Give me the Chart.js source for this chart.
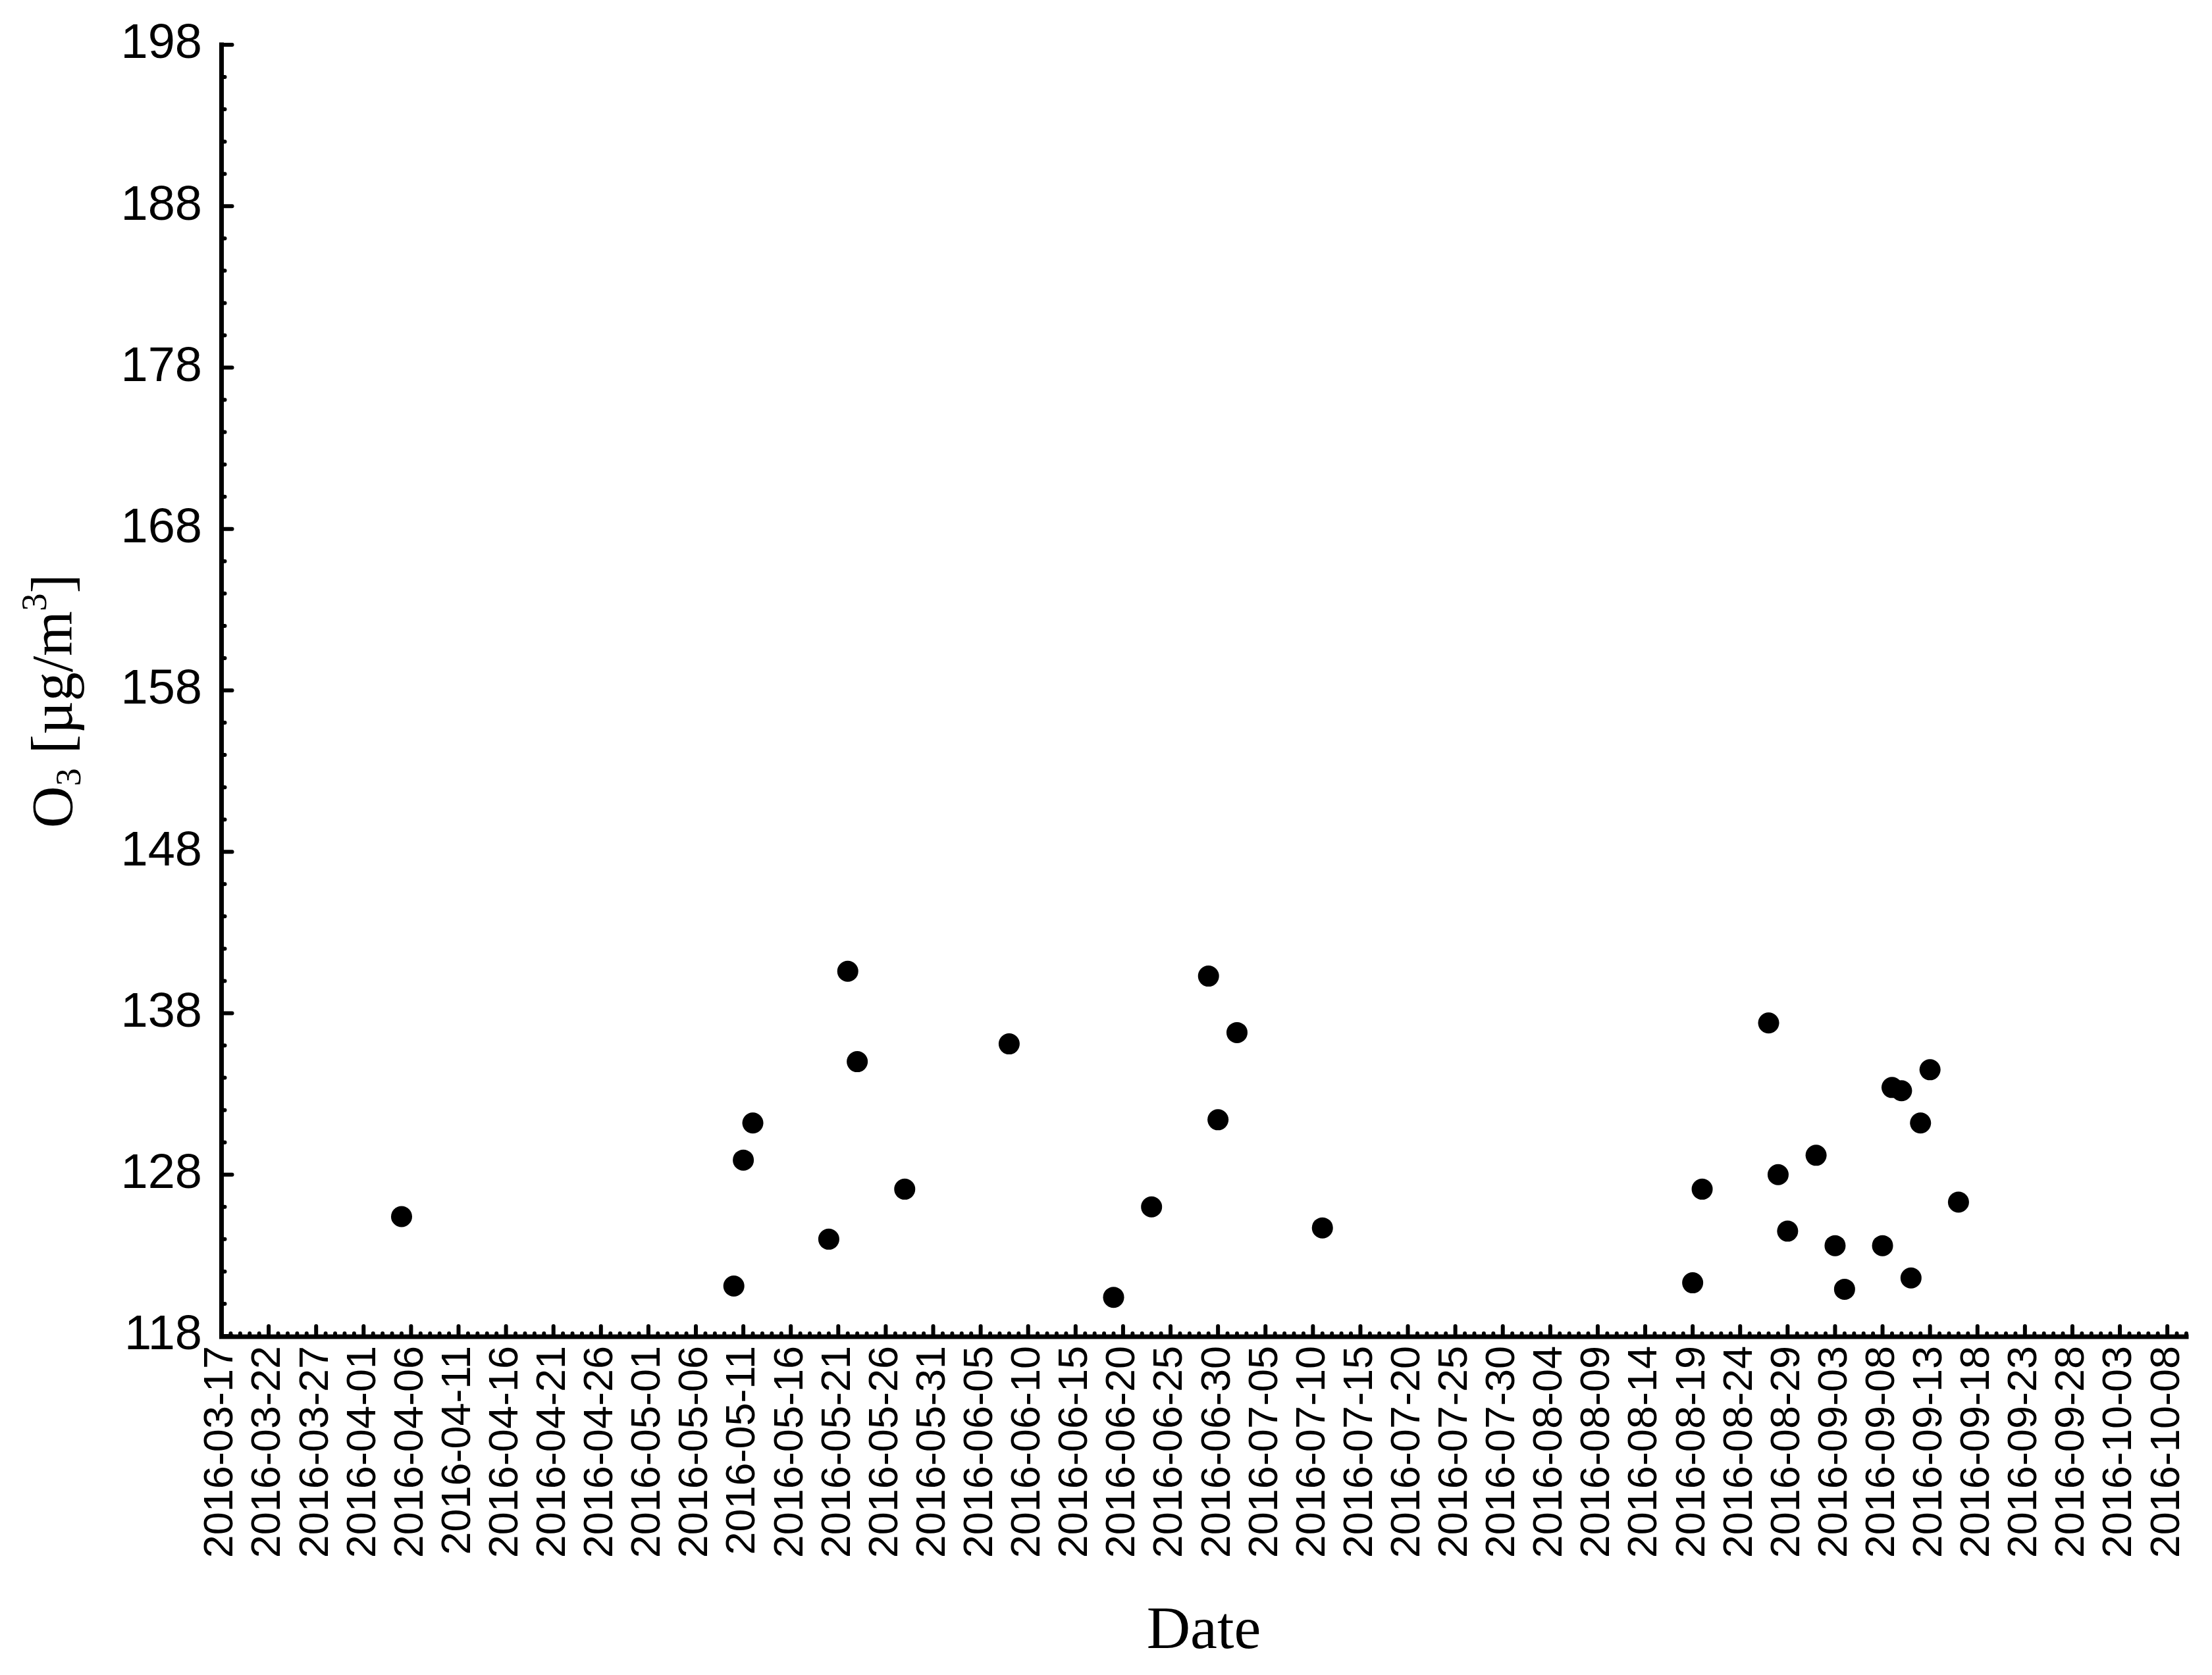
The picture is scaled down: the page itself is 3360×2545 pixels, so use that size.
<!DOCTYPE html>
<html>
<head>
<meta charset="utf-8">
<title>O3 by date</title>
<script src="https://cdn.jsdelivr.net/npm/chart.js@4.4.1/dist/chart.umd.min.js"></script>
<style>
  html, body { margin: 0; padding: 0; background: #fff; }
  canvas { display: block; }
</style>
</head>
<body>
<canvas id="chart" width="3360" height="2545"></canvas>
<script>
var dates = ['2016-04-05', '2016-05-10', '2016-05-11', '2016-05-12', '2016-05-20', '2016-05-22',
             '2016-05-23', '2016-05-28', '2016-06-08', '2016-06-19', '2016-06-23', '2016-06-29',
             '2016-06-30', '2016-07-02', '2016-07-11', '2016-08-19', '2016-08-20', '2016-08-27',
             '2016-08-28', '2016-08-29', '2016-09-01', '2016-09-03', '2016-09-04', '2016-09-08',
             '2016-09-09', '2016-09-10', '2016-09-11', '2016-09-12', '2016-09-13', '2016-09-16'];
var o3 = [125.4, 121.1, 128.9, 131.2, 124.0, 140.6,
          135.0, 127.1, 136.1, 120.4, 126.0, 140.3,
          131.4, 136.8, 124.7, 121.3, 127.1, 137.4,
          128.0, 124.5, 129.2, 123.6, 120.9, 123.6,
          133.4, 133.2, 121.6, 131.2, 134.5, 126.3];

// axis range
var startDate = '2016-03-17';
var endDate = '2016-10-10';
var yMin = 118;
var yMax = 198;
var yLabelStep = 10;
var yMinorStep = 2;
var xLabelStep = 5;

var DAY = 86400000;
function toUTC(s) {
  var p = s.split('-');
  return Date.UTC(+p[0], +p[1] - 1, +p[2]);
}
function dayOffset(s) {
  return Math.round((toUTC(s) - toUTC(startDate)) / DAY);
}
function pad(n) {
  return n < 10 ? '0' + n : '' + n;
}
function dayLabel(d) {
  var t = new Date(toUTC(startDate) + d * DAY);
  return t.getUTCFullYear() + '-' + pad(t.getUTCMonth() + 1) + '-' + pad(t.getUTCDate());
}

// inward major/minor ticks and the two axis lines
var axesPlugin = {
  id: 'originAxes',
  afterDraw: function(chart) {
    var ctx = chart.ctx;
    var a = chart.chartArea;
    var xs = chart.scales.x;
    var ys = chart.scales.y;
    var axisX = a.left + 0.5;
    var axisY = a.bottom + 1;
    ctx.save();
    ctx.strokeStyle = '#000';
    ctx.lineWidth = 6;
    ctx.lineCap = 'round';
    xs.ticks.forEach(function(t) {
      var px = xs.getPixelForValue(t.value);
      var len = t.value % xLabelStep === 0 ? 16 : 5;
      ctx.beginPath();
      ctx.moveTo(px, axisY);
      ctx.lineTo(px, axisY - len);
      ctx.stroke();
    });
    ys.ticks.forEach(function(t) {
      var py = ys.getPixelForValue(t.value);
      var len = (t.value - yMin) % yLabelStep === 0 ? 16 : 5;
      ctx.beginPath();
      ctx.moveTo(axisX, py);
      ctx.lineTo(axisX + len, py);
      ctx.stroke();
    });
    ctx.lineWidth = 7;
    ctx.lineCap = 'square';
    ctx.beginPath();
    ctx.moveTo(axisX, ys.getPixelForValue(yMax));
    ctx.lineTo(axisX, axisY);
    ctx.lineTo(xs.getPixelForValue(xs.max), axisY);
    ctx.stroke();
    ctx.restore();
  }
};

// y title with sub- and superscript
var yTitlePlugin = {
  id: 'yTitle',
  afterDraw: function(chart) {
    var ctx = chart.ctx;
    var a = chart.chartArea;
    var big = '88px "Liberation Serif"';
    var small = '54px "Liberation Serif"';
    var parts = [
      { text: 'O', font: big, shift: 0 },
      { text: '3', font: small, shift: 13 },
      { text: ' [\u00b5g/m', font: big, shift: 0 },
      { text: '3', font: small, shift: -39 },
      { text: ']', font: big, shift: 0 }
    ];
    ctx.save();
    var total = 0;
    parts.forEach(function(p) {
      ctx.font = p.font;
      p.w = ctx.measureText(p.text).width;
      total += p.w;
    });
    var cy = (a.top + a.bottom) / 2 + 16;
    ctx.translate(109, cy + total / 2);
    ctx.rotate(-Math.PI / 2);
    ctx.fillStyle = '#000';
    ctx.textBaseline = 'alphabetic';
    ctx.textAlign = 'left';
    var x = 0;
    parts.forEach(function(p) {
      ctx.font = p.font;
      ctx.fillText(p.text, x, p.shift);
      x += p.w;
    });
    ctx.restore();
  }
};

document.addEventListener('DOMContentLoaded', function() {
  var points = dates.map(function(d, i) {
    return { x: dayOffset(d), y: o3[i] };
  });
  var ctx = document.getElementById('chart').getContext('2d');
  var chart = new Chart(ctx, {
    type: 'scatter',
    data: {
      datasets: [{
        label: 'O3',
        data: points,
        backgroundColor: '#000',
        borderWidth: 0,
        pointRadius: 16,
        pointHoverRadius: 16
      }]
    },
    options: {
      responsive: false,
      animation: false,
      devicePixelRatio: 1,
      layout: { padding: { top: 68, right: 39, left: 0, bottom: 0 } },
      plugins: {
        legend: { display: false },
        tooltip: { enabled: false }
      },
      scales: {
        x: {
          type: 'linear',
          position: 'bottom',
          min: 0,
          max: dayOffset(endDate),
          grid: { display: false, drawTicks: false },
          border: { display: false },
          ticks: {
            stepSize: 1,
            autoSkip: false,
            minRotation: 90,
            maxRotation: 90,
            padding: 15,
            color: '#000',
            font: { family: 'Liberation Sans', size: 63 },
            callback: function(value) {
              return value % xLabelStep === 0 ? dayLabel(value) : '';
            }
          },
          title: {
            display: true,
            text: 'Date',
            color: '#000',
            font: { family: 'Liberation Serif', size: 92 },
            padding: { top: 0, bottom: 10 }
          },
          afterFit: function(scale) {
            scale.height = 515;
            scale.paddingLeft = 0;
            scale.paddingRight = 0;
          }
        },
        y: {
          min: yMin,
          max: yMax,
          grid: { display: false, drawTicks: false },
          border: { display: false },
          ticks: {
            stepSize: yMinorStep,
            autoSkip: false,
            padding: 29,
            color: '#000',
            font: { family: 'Liberation Sans', size: 74 },
            callback: function(value) {
              return (value - yMin) % yLabelStep === 0 ? value : '';
            }
          },
          afterFit: function(scale) {
            scale.width = 336;
            scale.paddingTop = 0;
            scale.paddingBottom = 0;
          }
        }
      }
    },
    plugins: [axesPlugin, yTitlePlugin]
  });
});
</script>
</body>
</html>
